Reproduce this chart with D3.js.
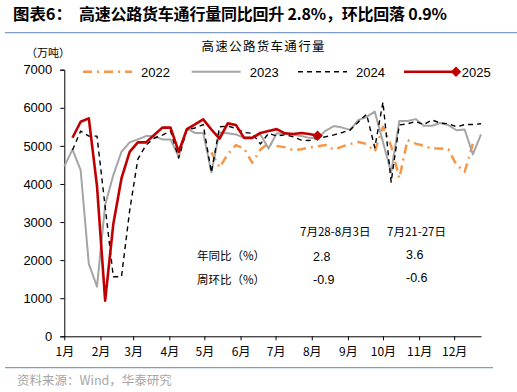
<!DOCTYPE html>
<html>
<head>
<meta charset="utf-8">
<script src="https://cdn.jsdelivr.net/npm/d3@7"></script>
<style>
  body { margin: 0; background: #fff; }
  svg { display: block; font-family: "Liberation Sans", Arial, sans-serif; }
  .cjk { font-family: "Noto Sans CJK SC", sans-serif; }
</style>
</head>
<body>
<div id="chart"></div>
<script>
// weekly highway truck traffic, 万吨
const months = ["1月", "2月", "3月", "4月", "5月", "6月", "7月", "8月", "9月", "10月", "11月", "12月"];
const monthStart = ["01-01", "02-01", "03-01", "04-01", "05-01", "06-01", "07-01", "08-01", "09-01", "10-01", "11-01", "12-01"];
const yTicks = [0, 1000, 2000, 3000, 4000, 5000, 6000, 7000];

const years = ["2022", "2023", "2024", "2025"];
const firstWeek = {"2022": "2022-05-07", "2023": "2023-01-01", "2024": "2024-01-08", "2025": "2025-01-08"};

const v2022 = [4830, 4430, 4780, 5020, 4930, 4560, 4900, 5080, 5000, 4960, 4890, 4910, 4960, 4990, 5020, 4900,
  4980, 5050, 5100, 5050, 4850, 5500, 5000, 4150, 5150, 5060, 5000, 4930, 4930, 4910, 4500, 4320, 5050];
const v2023 = [4460, 4908, 4365, 1900, 1302, 3446, 4234, 4845, 5092, 5170, 5257, 5257, 5170, 5170, 4714, 5450,
  5340, 5340, 4304, 5354, 5330, 5300, 5212, 5212, 5300, 4930, 5330, 5320, 5290, 5260, 5210, 5200,
  5400, 5520, 5480, 5420, 5680, 5760, 5900, 5100, 4300, 5650, 5651, 5703, 5528, 5528, 5600, 5546,
  5410, 5430, 4777, 5302];
const v2024 = [4890, 5389, 5257, 5257, 3400, 1564, 1564, 3300, 4650, 5020, 5200, 5283, 5389, 4680, 5430, 5470,
  5560, 4304, 5500, 5520, 5460, 5354, 5328, 5050, 5330, 5260, 5290, 5240, 5150, 5140, 5200, 5240,
  5290, 5350, 5420, 5630, 5830, 4950, 6150, 4050, 5550, 5580, 5640, 5560, 5680, 5600, 5580, 5500,
  5560, 5560, 5580];
const v2025 = [5213, 5633, 5722, 3950, 934, 2950, 4150, 4845, 5092, 5092, 5283, 5480, 5480, 4845, 5441, 5565,
  5695, 5430, 5190, 5590, 5550, 5210, 5210, 5340, 5390, 5440, 5330, 5310, 5340, 5313, 5265];

const tableHead = ["7月28-8月3日", "7月21-27日"];
const tableRows = ["年同比（%）", "周环比（%）"];
const yoy = ["2.8", "3.6"];
const wow = ["-0.9", "-0.6"];

const width = 517, height = 392;
const margin = {top: 69.7, right: 36, bottom: 55.7, left: 64.3};

const svg = d3.select("#chart").append("svg")
  .attr("width", width)
  .attr("height", height);

// day of year helper
const parse = d3.timeParse("%Y-%m-%d");
function dayOfYear(date) {
  return d3.timeDay.count(d3.timeYear(date), date);
}

const x = d3.scaleLinear().domain([0, 357]).range([margin.left, width - margin.right]);
const y = d3.scaleLinear().domain([0, 7000]).range([height - margin.bottom, margin.top]);

const values = {"2022": v2022, "2023": v2023, "2024": v2024, "2025": v2025};
const series = years.map(k => {
  const d0 = dayOfYear(parse(firstWeek[k]));
  return {key: k, points: values[k].map((v, i) => ({day: d0 + 7 * i, value: v}))};
});

const styles = {
  "2022": {stroke: "#f79646", width: 2.5, dash: "9,5,2,5"},
  "2023": {stroke: "#a5a5a5", width: 2, dash: null},
  "2024": {stroke: "#000000", width: 1.4, dash: "5,4"},
  "2025": {stroke: "#c00000", width: 2.6, dash: null}
};

// header
svg.append("text").attr("class", "cjk")
  .attr("x", 13).attr("y", 20)
  .attr("font-size", 16).attr("font-weight", "bold")
  .attr("textLength", 59).attr("lengthAdjust", "spacingAndGlyphs")
  .text("图表6：");
svg.append("text").attr("class", "cjk")
  .attr("x", 79).attr("y", 20)
  .attr("font-size", 16).attr("font-weight", "bold")
  .attr("textLength", 368).attr("lengthAdjust", "spacing")
  .text("高速公路货车通行量同比回升 2.8%，环比回落 0.9%");

svg.append("line")
  .attr("x1", 5).attr("x2", 517).attr("y1", 32.7).attr("y2", 32.7)
  .attr("stroke", "#7f9cc6").attr("stroke-width", 1.2);

svg.append("text").attr("class", "cjk")
  .attr("x", 263).attr("y", 51)
  .attr("text-anchor", "middle").attr("font-size", 12.5)
  .attr("textLength", 123).attr("lengthAdjust", "spacing")
  .text("高速公路货车通行量");

svg.append("text").attr("class", "cjk")
  .attr("x", 26).attr("y", 57).attr("font-size", 11)
  .text("（万吨）");

// axes
const yAxis = svg.append("g")
  .attr("transform", `translate(${margin.left},0)`)
  .call(d3.axisLeft(y).tickValues(yTicks).tickSize(4).tickPadding(8).tickFormat(d3.format("d")));
yAxis.select(".domain").attr("stroke", "#000");
yAxis.selectAll("text").attr("font-size", 13).attr("fill", "#000");

const monthDays = monthStart.map(m => dayOfYear(parse("2025-" + m)));
const xAxis = svg.append("g")
  .attr("transform", `translate(0,${height - margin.bottom})`)
  .call(d3.axisBottom(x).tickValues(monthDays).tickSize(4).tickPadding(7)
    .tickFormat((d, i) => months[i]).tickSizeOuter(0));
xAxis.select(".domain").attr("stroke", "#000");
xAxis.selectAll("text").attr("font-size", 12).attr("fill", "#000").attr("class", "cjk");

// lines
const line = d3.line().x(d => x(d.day)).y(d => y(d.value));

svg.append("g").selectAll("path")
  .data(series)
  .join("path")
  .attr("d", d => line(d.points))
  .attr("fill", "none")
  .attr("stroke", d => styles[d.key].stroke)
  .attr("stroke-width", d => styles[d.key].width)
  .attr("stroke-dasharray", d => styles[d.key].dash)
  .attr("stroke-linejoin", "round");

// end marker of 2025
const last = series[3].points[series[3].points.length - 1];
svg.append("path")
  .attr("d", d3.symbol(d3.symbolDiamond2, 70)())
  .attr("transform", `translate(${x(last.day)},${y(last.value)})`)
  .attr("fill", "#c00000");

// legend
const legendX = [83, 191.7, 298, 404];
const legend = svg.append("g").selectAll("g")
  .data(years)
  .join("g")
  .attr("transform", (d, i) => `translate(${legendX[i]},71.7)`);
legend.append("line")
  .attr("x1", 0).attr("x2", (d, i) => i === 3 ? 52 : 49)
  .attr("stroke", d => styles[d].stroke)
  .attr("stroke-width", d => styles[d].width)
  .attr("stroke-dasharray", d => styles[d].dash);
legend.filter(d => d === "2025").append("path")
  .attr("d", d3.symbol(d3.symbolDiamond2, 70)())
  .attr("transform", "translate(52,0)")
  .attr("fill", "#c00000");
legend.append("text")
  .attr("x", (d, i) => i === 3 ? 57.7 : 58)
  .attr("y", 5)
  .attr("font-size", 13)
  .text(d => d);

// small table
svg.append("g").selectAll("text")
  .data(tableHead)
  .join("text").attr("class", "cjk")
  .attr("x", (d, i) => [300, 387][i]).attr("y", 236)
  .attr("font-size", 11.5)
  .text(d => d);
svg.append("g").selectAll("text")
  .data(tableRows)
  .join("text").attr("class", "cjk")
  .attr("x", 197).attr("y", (d, i) => [259.5, 283.5][i])
  .attr("font-size", 11.5)
  .text(d => d);
svg.append("g").selectAll("text")
  .data(yoy.concat(wow))
  .join("text")
  .attr("x", (d, i) => i % 2 === 0 ? 313 : 406)
  .attr("y", (d, i) => [261, 259, 284, 282][i])
  .attr("font-size", 12.5)
  .text(d => d);

// footer
svg.append("line")
  .attr("x1", 5).attr("x2", 493).attr("y1", 367.7).attr("y2", 367.7)
  .attr("stroke", "#7f9cc6").attr("stroke-width", 1.2);
svg.append("text").attr("class", "cjk")
  .attr("x", 17).attr("y", 385)
  .attr("font-size", 12.5).attr("fill", "#a6a6a6")
  .text("资料来源：Wind，华泰研究");
</script>
</body>
</html>
